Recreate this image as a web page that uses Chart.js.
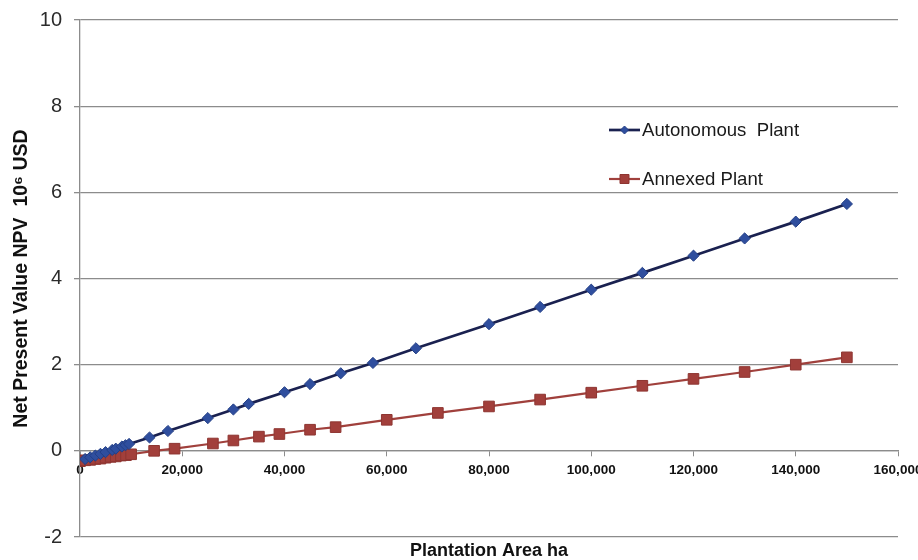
<!DOCTYPE html>
<html><head><meta charset="utf-8">
<script src="https://cdn.jsdelivr.net/npm/chart.js@4/dist/chart.umd.min.js"></script>
<style>html,body{margin:0;padding:0;background:#fff}#wrap{width:918px;height:560px;position:relative}</style>
</head><body><div id="wrap"><canvas id="c" width="918" height="560"></canvas></div>
<script>
// ---- data ----
const seriesNames = ['Autonomous  Plant', 'Annexed Plant'];
const autonomousArea = [1000, 2000, 3000, 4000, 5000, 6300, 7000, 8200, 8900, 9600, 13600, 17200, 25000, 30000, 33000, 40000, 45000, 51000, 57300, 65700, 80000, 90000, 100000, 110000, 120000, 130000, 140000, 150000];
const autonomousNPV  = [-0.19, -0.15, -0.11, -0.07, -0.03, 0.02, 0.05, 0.10, 0.13, 0.16, 0.31, 0.46, 0.76, 0.96, 1.09, 1.36, 1.55, 1.80, 2.04, 2.38, 2.94, 3.34, 3.74, 4.13, 4.53, 4.93, 5.32, 5.73];
const annexedArea = [0, 1000, 2000, 3000, 4000, 5000, 6000, 7000, 8000, 9000, 10000, 14500, 18500, 26000, 30000, 35000, 39000, 45000, 50000, 60000, 70000, 80000, 90000, 100000, 110000, 120000, 130000, 140000, 150000];
const annexedNPV  = [-0.24, -0.22, -0.21, -0.19, -0.18, -0.16, -0.14, -0.13, -0.11, -0.10, -0.08, 0.00, 0.05, 0.17, 0.24, 0.33, 0.39, 0.49, 0.55, 0.72, 0.88, 1.03, 1.19, 1.35, 1.51, 1.67, 1.83, 2.00, 2.17];
const xTickValues = [0, 20000, 40000, 60000, 80000, 100000, 120000, 140000, 160000];
const yTickValues = [-2, 0, 2, 4, 6, 8, 10];
const xAxisTitle = 'Plantation Area ha';
const yAxisTitle = 'Net Present Value NPV  10\u2076 USD';

const toPoints = (xs, ys) => xs.map((x, i) => ({ x: x, y: ys[i] }));

const legendPlugin = {
  id: 'insideLegend',
  afterDatasetsDraw(chart) {
    const ctx = chart.ctx;
    const rows = [130, 179];
    chart.data.datasets.forEach((ds, i) => {
      const y = rows[i];
      ctx.save();
      ctx.strokeStyle = ds.borderColor;
      ctx.lineWidth = ds.borderWidth;
      ctx.beginPath(); ctx.moveTo(609, y); ctx.lineTo(640, y); ctx.stroke();
      ctx.fillStyle = ds.pointBackgroundColor;
      ctx.strokeStyle = ds.pointBorderColor;
      ctx.lineWidth = 1;
      ctx.beginPath();
      if (ds.pointStyle === 'rectRot') {
        const r = 4;
        ctx.moveTo(624.5, y - r); ctx.lineTo(624.5 + r, y); ctx.lineTo(624.5, y + r); ctx.lineTo(624.5 - r, y); ctx.closePath();
      } else {
        ctx.rect(620, y - 4.5, 9, 9);
      }
      ctx.fill(); ctx.stroke();
      ctx.fillStyle = '#1a1a1a';
      ctx.font = '18.6px "Liberation Sans", Arial, sans-serif';
      ctx.textBaseline = 'middle';
      ctx.textAlign = 'left';
      ctx.fillText(ds.label, 642, y + 1);
      ctx.restore();
    });
  }
};

new Chart(document.getElementById('c'), {
  type: 'scatter',
  data: {
    datasets: [
      {
        label: seriesNames[0],
        data: toPoints(autonomousArea, autonomousNPV),
        showLine: true,
        borderColor: '#1a2150',
        borderWidth: 2.7,
        pointStyle: 'rectRot',
        pointRadius: 5.6,
        pointHoverRadius: 5.6,
        pointBackgroundColor: '#2f4e9e',
        pointBorderColor: '#233f86',
        pointBorderWidth: 1,
        tension: 0
      },
      {
        label: seriesNames[1],
        data: toPoints(annexedArea, annexedNPV),
        showLine: true,
        borderColor: '#a0403c',
        borderWidth: 2.2,
        pointStyle: 'rect',
        pointRadius: 7.5,
        pointHoverRadius: 7.5,
        pointBackgroundColor: '#a23f3b',
        pointBorderColor: '#8e3531',
        pointBorderWidth: 1,
        tension: 0
      }
    ]
  },
  options: {
    responsive: false,
    animation: false,
    devicePixelRatio: 1,
    layout: { padding: { left: 0, right: 20, top: 20, bottom: 0 } },
    plugins: {
      legend: { display: false },
      tooltip: { enabled: false },
      title: {
        display: true,
        position: 'bottom',
        fullSize: false,
        text: xAxisTitle,
        color: '#111',
        font: { family: '"Liberation Sans", Arial, sans-serif', size: 18, weight: 'bold', lineHeight: 1 },
        padding: { top: 5, bottom: 0 }
      }
    },
    scales: {
      x: {
        type: 'linear',
        position: { y: 0 },
        min: 0, max: 160000,
        afterFit: (s) => { s.height = 0; s.paddingLeft = 0; s.paddingRight = 0; s.paddingTop = 0; s.paddingBottom = 0; },
        afterBuildTicks: (s) => { s.ticks = xTickValues.map(v => ({ value: v })); },
        ticks: {
          color: '#111',
          padding: 6,
          maxRotation: 0,
          font: { family: '"Liberation Sans", Arial, sans-serif', size: 13.5, weight: 'bold' },
          callback: (v) => v.toLocaleString('en-US')
        },
        grid: { display: true, drawOnChartArea: false, drawTicks: true, tickLength: 5, color: '#8c8c8c', lineWidth: 1 },
        border: { display: true, color: '#8c8c8c', width: 1.3 }
      },
      y: {
        type: 'linear',
        min: -2, max: 10,
        afterFit: (s) => { s.width = 80; s.paddingTop = 0; s.paddingBottom = 0; },
        afterBuildTicks: (s) => { s.ticks = yTickValues.map(v => ({ value: v })); },
        ticks: {
          color: '#2b2b2b',
          padding: 12,
          font: { family: '"Liberation Sans", Arial, sans-serif', size: 20 }
        },
        grid: { display: true, drawTicks: true, tickLength: 6, color: '#8c8c8c', lineWidth: 1.3 },
        border: { display: true, color: '#8c8c8c', width: 1.3 },
        title: {
          display: true,
          text: yAxisTitle,
          color: '#111',
          font: { family: '"Liberation Sans", Arial, sans-serif', size: 19.5, weight: 'bold' },
          padding: { top: 10, bottom: 0 }
        }
      }
    }
  },
  plugins: [legendPlugin]
});
</script>
</body></html>
